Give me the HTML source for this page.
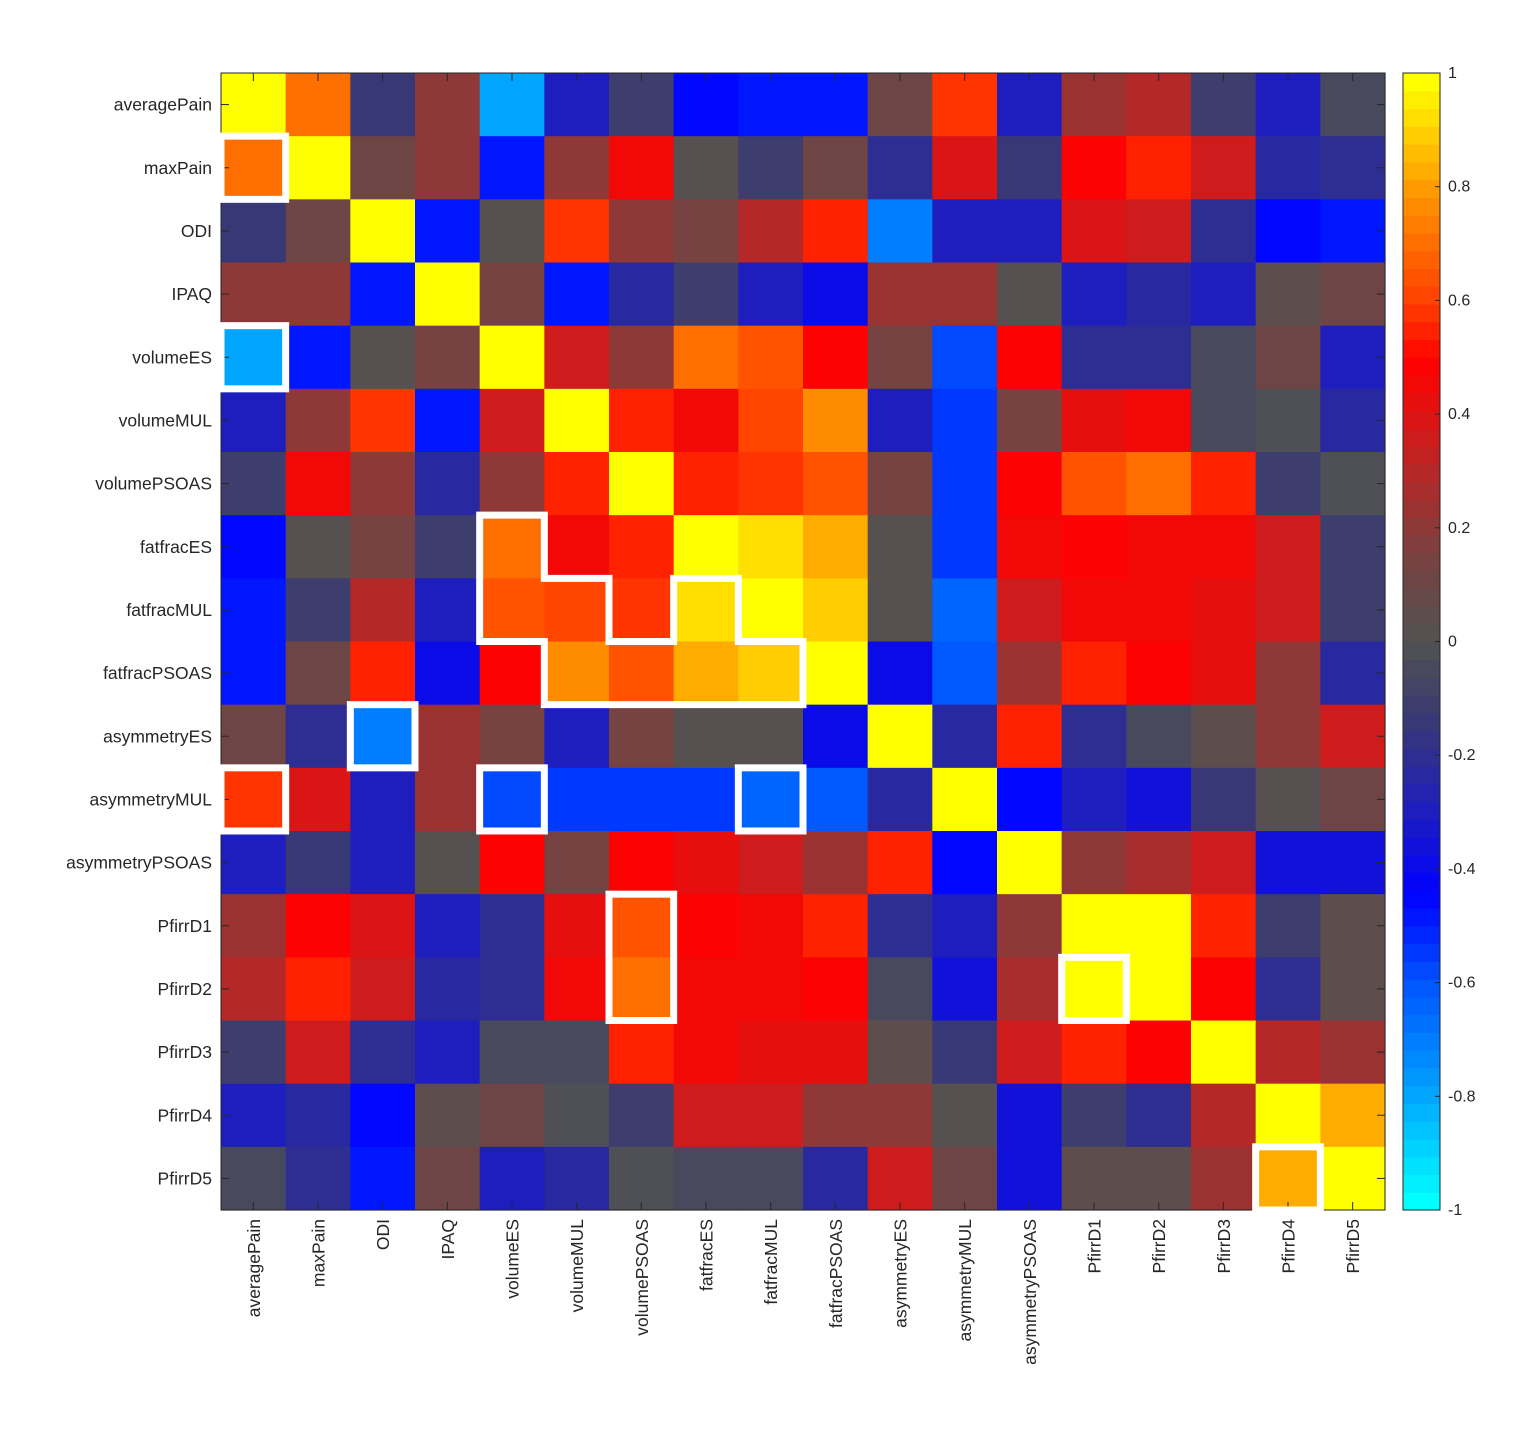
<!DOCTYPE html>
<html><head><meta charset="utf-8">
<style>
html,body{margin:0;padding:0;background:#fff;}
svg{display:block;font-family:"Liberation Sans",Arial,sans-serif;}
</style></head>
<body>
<svg id="chart" width="1524" height="1430" viewBox="0 0 1524 1430" xmlns="http://www.w3.org/2000/svg"></svg>
<script>
const labels = ["averagePain","maxPain","ODI","IPAQ","volumeES","volumeMUL","volumePSOAS","fatfracES","fatfracMUL","fatfracPSOAS","asymmetryES","asymmetryMUL","asymmetryPSOAS","PfirrD1","PfirrD2","PfirrD3","PfirrD4","PfirrD5"];
const row0 = [1,0.7,-0.15,0.2,-0.8,-0.3,-0.1,-0.45,-0.5,-0.5,0.1,0.6,-0.3,0.25,0.3,-0.1,-0.3,-0.05];
const row1 = [0.7,1,0.1,0.2,-0.5,0.2,0.45,0.02,-0.1,0.1,-0.2,0.4,-0.15,0.5,0.55,0.35,-0.25,-0.2];
const row2 = [-0.15,0.1,1,-0.5,0.02,0.6,0.2,0.15,0.3,0.55,-0.7,-0.3,-0.3,0.4,0.35,-0.2,-0.45,-0.5];
const row3 = [0.2,0.2,-0.5,1,0.15,-0.5,-0.25,-0.1,-0.3,-0.4,0.25,0.25,0,-0.3,-0.25,-0.3,0.05,0.1];
const row4 = [-0.8,-0.5,0.02,0.15,1,0.35,0.2,0.7,0.65,0.5,0.15,-0.6,0.5,-0.2,-0.2,-0.05,0.1,-0.3];
const row5 = [-0.3,0.2,0.6,-0.5,0.35,1,0.57,0.47,0.62,0.78,-0.3,-0.55,0.15,0.42,0.45,-0.05,-0.02,-0.25];
const row6 = [-0.1,0.45,0.2,-0.25,0.2,0.57,1,0.55,0.6,0.65,0.15,-0.55,0.5,0.65,0.7,0.55,-0.1,-0.02];
const row7 = [-0.45,0.02,0.15,-0.1,0.7,0.47,0.55,1,0.95,0.85,0,-0.55,0.47,0.5,0.47,0.47,0.35,-0.1];
const row8 = [-0.5,-0.1,0.3,-0.3,0.65,0.62,0.6,0.95,1,0.9,0,-0.65,0.37,0.45,0.45,0.42,0.35,-0.1];
const row9 = [-0.5,0.1,0.55,-0.4,0.5,0.78,0.65,0.85,0.9,1,-0.4,-0.62,0.25,0.55,0.5,0.42,0.2,-0.25];
const row10 = [0.1,-0.2,-0.7,0.25,0.15,-0.3,0.15,0,0,-0.4,1,-0.25,0.55,-0.2,-0.05,0.05,0.2,0.35];
const row11 = [0.6,0.4,-0.3,0.25,-0.6,-0.55,-0.55,-0.55,-0.65,-0.62,-0.25,1,-0.45,-0.3,-0.35,-0.15,0.02,0.1];
const row12 = [-0.3,-0.15,-0.3,0,0.5,0.15,0.5,0.42,0.37,0.25,0.55,-0.45,1,0.22,0.27,0.35,-0.35,-0.35];
const row13 = [0.25,0.5,0.4,-0.3,-0.2,0.42,0.65,0.5,0.45,0.55,-0.2,-0.3,0.22,1,1,0.55,-0.1,0.05];
const row14 = [0.3,0.55,0.35,-0.25,-0.2,0.45,0.7,0.47,0.45,0.5,-0.05,-0.35,0.27,1,1,0.48,-0.2,0.05];
const row15 = [-0.1,0.35,-0.2,-0.3,-0.05,-0.05,0.55,0.47,0.42,0.42,0.05,-0.15,0.35,0.55,0.48,1,0.3,0.25];
const row16 = [-0.3,-0.25,-0.45,0.05,0.1,-0.02,-0.1,0.35,0.35,0.2,0.2,0.02,-0.35,-0.1,-0.2,0.3,1,0.85];
const row17 = [-0.05,-0.2,-0.5,0.1,-0.3,-0.25,-0.02,-0.05,-0.05,-0.25,0.35,0.1,-0.35,0.05,0.05,0.25,0.85,1];
const matrix = [row0,row1,row2,row3,row4,row5,row6,row7,row8,row9,row10,row11,row12,row13,row14,row15,row16,row17];
const cbTicks = [1,0.8,0.6,0.4,0.2,0,-0.2,-0.4,-0.6,-0.8,-1];
const cbTickLabels = ["1","0.8","0.6","0.4","0.2","0","-0.2","-0.4","-0.6","-0.8","-1"];
const boxRows = [1,4,10,11,11,11,14,17];
const boxCols = [0,0,2,0,4,8,13,16];

const NS="http://www.w3.org/2000/svg";
const svg=document.getElementById('chart');
const X0=221,X1=1385,Y0=73,Y1=1210,N=labels.length;
const cw=(X1-X0)/N,ch=(Y1-Y0)/N;
const xs=c=>X0+c*cw, ys=r=>Y0+r*ch;
const stops=[[-1,0,255,255],[-0.8,0,160,255],[-0.6,0,80,255],[-0.45,0,0,255],[-0.3,30,30,190],[-0.15,55,55,120],[0,82,82,82],[0.15,120,65,65],[0.3,180,40,40],[0.45,240,10,10],[0.5,255,0,0],[0.6,255,60,0],[0.8,255,150,0],[1,255,255,0]];
function cmap(v){
  let q=Math.round((v+1)/2*63)/63*2-1; q=Math.max(-1,Math.min(1,q));
  for(let i=0;i<stops.length-1;i++){const a=stops[i],b=stops[i+1];
    if(q<=b[0]){const t=(q-a[0])/(b[0]-a[0]);return `rgb(${Math.round(a[1]+t*(b[1]-a[1]))},${Math.round(a[2]+t*(b[2]-a[2]))},${Math.round(a[3]+t*(b[3]-a[3]))})`;}}
  return 'rgb(255,255,0)';
}
function el(tag,attrs){const e=document.createElementNS(NS,tag);for(const k in attrs)e.setAttribute(k,attrs[k]);svg.appendChild(e);return e;}
for(let r=0;r<N;r++)for(let c=0;c<N;c++){
  const e=el('rect',{x:xs(c),y:ys(r),width:cw+0.6,height:ch+0.6,fill:cmap(matrix[r][c])});
  
  
}
el('rect',{x:X0,y:Y0,width:X1-X0,height:Y1-Y0,fill:'none',stroke:'#262626','stroke-width':1});
for(let i=0;i<N;i++){
  const yc=ys(i)+ch/2, xc=xs(i)+cw/2;
  el('line',{x1:X0,x2:X0+8,y1:yc,y2:yc,stroke:'#262626'});
  el('line',{x1:X1,x2:X1-8,y1:yc,y2:yc,stroke:'#262626'});
  el('line',{x1:xc,x2:xc,y1:Y1,y2:Y1-8,stroke:'#262626'});
  el('line',{x1:xc,x2:xc,y1:Y0,y2:Y0+8,stroke:'#262626'});
  const t=el('text',{x:212,y:yc+6,'text-anchor':'end','font-size':17.5,fill:'#262626'});t.textContent=labels[i];
  
  
  const t2=el('text',{x:0,y:0,'text-anchor':'end','font-size':17.5,fill:'#262626',transform:`translate(${xc+6.5},${Y1+9}) rotate(-90)`});t2.textContent=labels[i];
  
  
}
for(let k=0;k<boxRows.length;k++){
  const e=el('rect',{x:xs(boxCols[k]),y:ys(boxRows[k]),width:cw,height:ch,fill:'none',stroke:'#fff','stroke-width':7});
  
  
}
{
  const e=el('rect',{x:xs(6),y:ys(13),width:cw,height:2*ch,fill:'none',stroke:'#fff','stroke-width':7});
  
  
  const pts=[[4,7],[5,7],[5,8],[6,8],[6,9],[7,9],[7,8],[8,8],[8,9],[9,9],[9,10],[5,10],[5,9],[4,9]].map(p=>xs(p[0])+','+ys(p[1])).join(' ');
  const p=el('polygon',{points:pts,fill:'none',stroke:'#fff','stroke-width':7,'stroke-linejoin':'miter'});
  
  
}
const CX0=1403,CX1=1440;
for(let i=0;i<64;i++){
  const v=-1+ (i+0.5)/64*2;
  const y=Y1-(i+1)*(Y1-Y0)/64;
  const e=el('rect',{x:CX0,y:y,width:CX1-CX0,height:(Y1-Y0)/64+0.6,fill:cmap(v)});
  
  
}
el('rect',{x:CX0,y:Y0,width:CX1-CX0,height:Y1-Y0,fill:'none',stroke:'#262626'});
const cy=v=>Y1-(v+1)/2*(Y1-Y0);
cbTicks.forEach((v,i)=>{
  el('line',{x1:CX1,x2:CX1-5,y1:cy(v),y2:cy(v),stroke:'#262626'});
  const t=el('text',{x:1448,y:cy(v)+5,'font-size':16,fill:'#262626'});t.textContent=cbTickLabels[i];
  
  
});
</script>
</body></html>
